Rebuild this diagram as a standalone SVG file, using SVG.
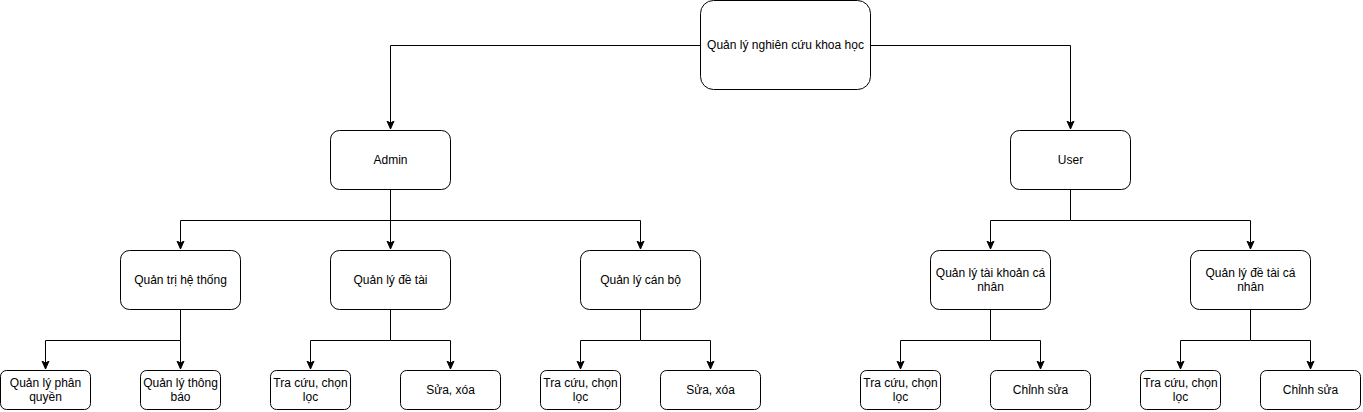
<svg xmlns="http://www.w3.org/2000/svg" width="1363" height="412" viewBox="0 0 1363 412">
<style>
.n rect{fill:#fff;stroke:#000;stroke-width:1}
.n text{font-family:"Liberation Sans",Arial,sans-serif;font-size:12px;fill:#000;text-anchor:middle;dominant-baseline:central}
.c path{fill:none;stroke:#000;stroke-width:1;marker-end:url(#a)}
</style>
<defs>
<marker id="a" markerUnits="userSpaceOnUse" markerWidth="10" markerHeight="10" refX="8" refY="4" orient="auto">
<path d="M0,0.5 L8,4 L0,7.5 L2,4 Z" fill="#000" stroke="#000" stroke-width="1"/>
</marker>
</defs>
<g id="connectors" class="c">
<path d="M700.5,45.5 H390.5 V129"/>
<path d="M870.5,45.5 H1070.5 V129"/>
<path d="M390.5,190 V220.5 H180.5 V249"/>
<path d="M390.5,220.5 V249"/>
<path d="M390.5,220.5 H640.5 V249"/>
<path d="M1070.5,190 V220.5 H990.5 V249"/>
<path d="M1070.5,220.5 H1250.5 V249"/>
<path d="M180.5,310 V340.5 H45.5 V369"/>
<path d="M180.5,340.5 V369"/>
<path d="M390.5,310 V340.5 H310.5 V369"/>
<path d="M390.5,340.5 H450.5 V369"/>
<path d="M640.5,310 V340.5 H580.5 V369"/>
<path d="M640.5,340.5 H710.5 V369"/>
<path d="M990.5,310 V340.5 H900.5 V369"/>
<path d="M990.5,340.5 H1040.5 V369"/>
<path d="M1250.5,310 V340.5 H1180.5 V369"/>
<path d="M1250.5,340.5 H1310.5 V369"/>
</g>
<g id="root" class="n"><rect x="700.5" y="0.5" width="170" height="89" rx="13"/><text x="785.5" y="45">Quản lý nghiên cứu khoa học</text></g>
<g id="admin" class="n"><rect x="330.5" y="130.5" width="120" height="59" rx="9"/><text x="390.5" y="160">Admin</text></g>
<g id="user" class="n"><rect x="1010.5" y="130.5" width="120" height="59" rx="9"/><text x="1070.5" y="160">User</text></g>
<g id="qtht" class="n"><rect x="120.5" y="250.5" width="120" height="59" rx="9"/><text x="180.5" y="280">Quản trị hệ thống</text></g>
<g id="qldt" class="n"><rect x="330.5" y="250.5" width="120" height="59" rx="9"/><text x="390.5" y="280">Quản lý đề tài</text></g>
<g id="qlcb" class="n"><rect x="580.5" y="250.5" width="120" height="59" rx="9"/><text x="640.5" y="280">Quản lý cán bộ</text></g>
<g id="qltk" class="n"><rect x="930.5" y="250.5" width="120" height="59" rx="9"/><text x="990.5" y="273">Quản lý tài khoản cá</text><text x="990.5" y="287">nhân</text></g>
<g id="qldtcn" class="n"><rect x="1190.5" y="250.5" width="120" height="59" rx="9"/><text x="1250.5" y="273">Quản lý đề tài cá</text><text x="1250.5" y="287">nhân</text></g>
<g id="qlpq" class="n"><rect x="0.5" y="370.5" width="90" height="39" rx="6"/><text x="45.5" y="383">Quản lý phân</text><text x="45.5" y="397">quyền</text></g>
<g id="qltb" class="n"><rect x="140.5" y="370.5" width="80" height="39" rx="6"/><text x="180.5" y="383">Quản lý thông</text><text x="180.5" y="397">báo</text></g>
<g id="tc1" class="n"><rect x="270.5" y="370.5" width="80" height="39" rx="6"/><text x="310.5" y="383">Tra cứu, chọn</text><text x="310.5" y="397">lọc</text></g>
<g id="sx1" class="n"><rect x="400.5" y="370.5" width="100" height="39" rx="6"/><text x="450.5" y="390">Sửa, xóa</text></g>
<g id="tc2" class="n"><rect x="540.5" y="370.5" width="80" height="39" rx="6"/><text x="580.5" y="383">Tra cứu, chọn</text><text x="580.5" y="397">lọc</text></g>
<g id="sx2" class="n"><rect x="660.5" y="370.5" width="100" height="39" rx="6"/><text x="710.5" y="390">Sửa, xóa</text></g>
<g id="tc3" class="n"><rect x="860.5" y="370.5" width="80" height="39" rx="6"/><text x="900.5" y="383">Tra cứu, chọn</text><text x="900.5" y="397">lọc</text></g>
<g id="cs1" class="n"><rect x="990.5" y="370.5" width="100" height="39" rx="6"/><text x="1040.5" y="390">Chỉnh sửa</text></g>
<g id="tc4" class="n"><rect x="1140.5" y="370.5" width="80" height="39" rx="6"/><text x="1180.5" y="383">Tra cứu, chọn</text><text x="1180.5" y="397">lọc</text></g>
<g id="cs2" class="n"><rect x="1260.5" y="370.5" width="100" height="39" rx="6"/><text x="1310.5" y="390">Chỉnh sửa</text></g>
</svg>
